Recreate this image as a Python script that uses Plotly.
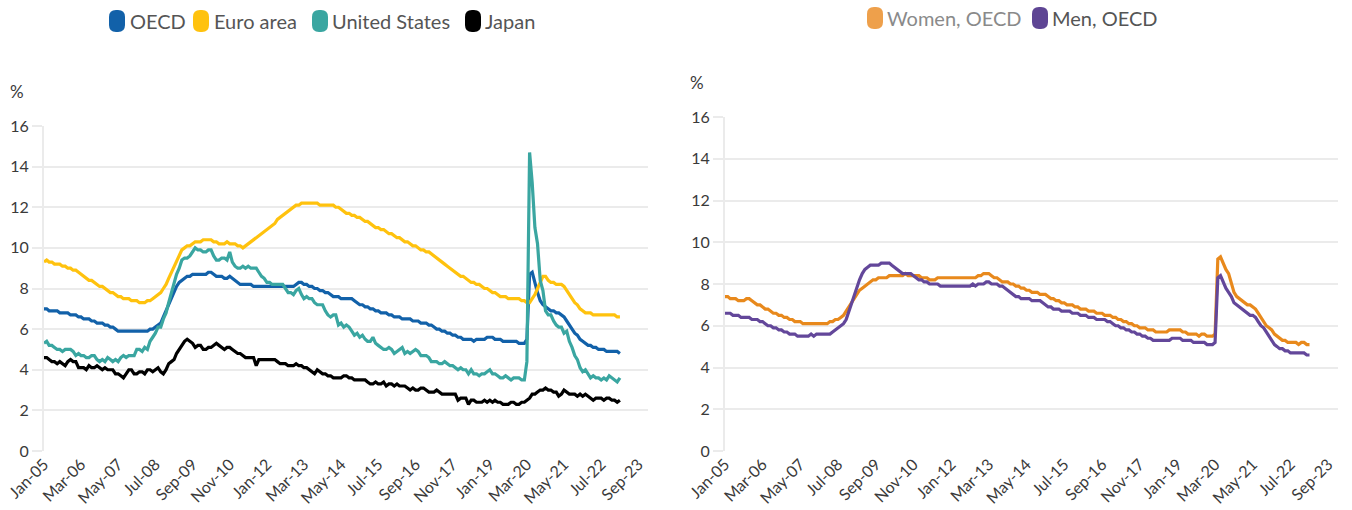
import pandas as pd
import plotly.graph_objects as go

# ---------------- data (monthly, Jan 2005 - Feb 2023, %) ----------------
start_month = "2005-01-01"

oecd = [
    7.0, 7.0, 6.9, 6.9, 6.9, 6.9, 6.8, 6.8, 6.8, 6.8, 6.7, 6.7,
    6.7, 6.6, 6.6, 6.5, 6.5, 6.5, 6.4, 6.4, 6.3, 6.3, 6.3, 6.2,
    6.2, 6.1, 6.1, 6.0, 5.9, 5.9, 5.9, 5.9, 5.9, 5.9, 5.9, 5.9,
    5.9, 5.9, 5.9, 5.9, 6.0, 6.0, 6.1, 6.2, 6.3, 6.6, 6.9, 7.2,
    7.5, 7.8, 8.1, 8.3, 8.4, 8.5, 8.6, 8.6, 8.7, 8.7, 8.7, 8.7,
    8.7, 8.7, 8.8, 8.8, 8.7, 8.6, 8.6, 8.6, 8.5, 8.5, 8.6, 8.5,
    8.4, 8.3, 8.2, 8.2, 8.2, 8.2, 8.2, 8.1, 8.1, 8.1, 8.1, 8.1,
    8.1, 8.1, 8.1, 8.1, 8.1, 8.1, 8.1, 8.1, 8.1, 8.1, 8.1, 8.2,
    8.3, 8.3, 8.2, 8.2, 8.1, 8.1, 8.0, 8.0, 7.9, 7.9, 7.8, 7.8,
    7.7, 7.6, 7.6, 7.6, 7.5, 7.5, 7.5, 7.5, 7.5, 7.4, 7.3, 7.2,
    7.2, 7.1, 7.1, 7.0, 7.0, 6.9, 6.9, 6.8, 6.8, 6.8, 6.7, 6.7,
    6.6, 6.6, 6.6, 6.5, 6.5, 6.5, 6.5, 6.4, 6.4, 6.4, 6.3, 6.3,
    6.3, 6.2, 6.2, 6.1, 6.0, 6.0, 5.9, 5.9, 5.8, 5.8, 5.7, 5.7,
    5.6, 5.6, 5.5, 5.5, 5.5, 5.5, 5.4, 5.5, 5.5, 5.5, 5.5, 5.6,
    5.6, 5.6, 5.5, 5.5, 5.5, 5.4, 5.4, 5.4, 5.4, 5.4, 5.4, 5.3,
    5.3, 5.3, 5.5, 8.7, 8.8, 8.2, 7.8, 7.4, 7.2, 7.1, 7.0, 6.9,
    6.9, 6.8, 6.8, 6.7, 6.6, 6.4, 6.2, 6.0, 5.8, 5.7, 5.5, 5.4,
    5.3, 5.2, 5.2, 5.1, 5.1, 5.0, 5.0, 5.0, 4.9, 4.9, 4.9, 4.9,
    4.9, 4.8,
]

euro_area = [
    9.3, 9.4, 9.3, 9.3, 9.2, 9.2, 9.2, 9.1, 9.1, 9.0, 9.0, 8.9,
    8.9, 8.8, 8.7, 8.6, 8.5, 8.4, 8.4, 8.3, 8.2, 8.1, 8.1, 8.0,
    7.9, 7.8, 7.8, 7.7, 7.6, 7.6, 7.5, 7.5, 7.5, 7.4, 7.4, 7.4,
    7.3, 7.3, 7.3, 7.4, 7.4, 7.5, 7.6, 7.7, 7.8, 8.0, 8.2, 8.5,
    8.8, 9.1, 9.4, 9.7, 9.9, 10.0, 10.1, 10.1, 10.2, 10.3, 10.3, 10.3,
    10.4, 10.4, 10.4, 10.4, 10.3, 10.3, 10.2, 10.2, 10.2, 10.3, 10.2, 10.2,
    10.2, 10.1, 10.1, 10.0, 10.1, 10.2, 10.3, 10.4, 10.5, 10.6, 10.7, 10.8,
    10.9, 11.0, 11.1, 11.2, 11.4, 11.5, 11.6, 11.7, 11.8, 11.9, 12.0, 12.1,
    12.1, 12.2, 12.2, 12.2, 12.2, 12.2, 12.2, 12.2, 12.1, 12.1, 12.1, 12.1,
    12.1, 12.1, 12.0, 12.0, 11.9, 11.8, 11.7, 11.7, 11.6, 11.6, 11.5, 11.5,
    11.4, 11.3, 11.3, 11.2, 11.1, 11.0, 11.0, 10.9, 10.9, 10.8, 10.7, 10.7,
    10.6, 10.5, 10.5, 10.4, 10.3, 10.3, 10.2, 10.1, 10.1, 10.0, 9.9, 9.9,
    9.8, 9.8, 9.7, 9.6, 9.5, 9.4, 9.3, 9.2, 9.1, 9.0, 8.9, 8.8,
    8.7, 8.6, 8.6, 8.5, 8.4, 8.3, 8.3, 8.2, 8.2, 8.1, 8.0, 8.0,
    7.9, 7.8, 7.8, 7.7, 7.6, 7.6, 7.6, 7.5, 7.5, 7.5, 7.5, 7.5,
    7.4, 7.4, 7.3, 7.3, 7.5, 7.7, 8.0, 8.3, 8.6, 8.6, 8.4, 8.3,
    8.3, 8.2, 8.2, 8.2, 8.1, 7.9, 7.7, 7.5, 7.3, 7.2, 7.0, 6.9,
    6.8, 6.8, 6.8, 6.7, 6.7, 6.7, 6.7, 6.7, 6.7, 6.7, 6.7, 6.7,
    6.6, 6.6,
]

united_states = [
    5.3, 5.4, 5.2, 5.2, 5.1, 5.0, 5.0, 4.9, 5.0, 5.0, 5.0, 4.9,
    4.7, 4.8, 4.7, 4.7, 4.6, 4.6, 4.7, 4.7, 4.5, 4.4, 4.5, 4.4,
    4.6, 4.5, 4.4, 4.5, 4.4, 4.6, 4.7, 4.6, 4.7, 4.7, 4.7, 5.0,
    5.0, 4.9, 5.1, 5.0, 5.4, 5.6, 5.8, 6.1, 6.1, 6.5, 6.8, 7.3,
    7.8, 8.3, 8.7, 9.0, 9.4, 9.5, 9.5, 9.6, 9.8, 10.0, 9.9, 9.9,
    9.8, 9.8, 9.9, 9.9, 9.6, 9.4, 9.4, 9.5, 9.5, 9.4, 9.8, 9.3,
    9.1, 9.0, 9.0, 9.1, 9.0, 9.1, 9.0, 9.0, 9.0, 8.8, 8.6, 8.5,
    8.3, 8.3, 8.2, 8.2, 8.2, 8.2, 8.2, 8.0, 7.8, 7.8, 7.7, 7.9,
    8.0, 7.7, 7.5, 7.6, 7.5, 7.5, 7.3, 7.2, 7.2, 7.2, 6.9, 6.7,
    6.6, 6.7, 6.7, 6.2, 6.3, 6.1, 6.2, 6.1, 5.9, 5.7, 5.8, 5.6,
    5.7, 5.5, 5.4, 5.4, 5.6, 5.3, 5.2, 5.1, 5.0, 5.0, 5.1, 5.0,
    4.8, 4.9, 5.0, 5.1, 4.8, 4.9, 4.8, 4.9, 5.0, 4.9, 4.7, 4.7,
    4.7, 4.6, 4.4, 4.4, 4.4, 4.3, 4.3, 4.4, 4.3, 4.2, 4.2, 4.1,
    4.0, 4.1, 4.0, 4.0, 3.8, 4.0, 3.8, 3.8, 3.7, 3.8, 3.8, 3.9,
    4.0, 3.8, 3.8, 3.7, 3.6, 3.6, 3.7, 3.6, 3.5, 3.6, 3.6, 3.6,
    3.5, 3.5, 4.4, 14.7, 13.2, 11.0, 10.2, 8.4, 7.9, 6.9, 6.7, 6.7,
    6.4, 6.2, 6.1, 6.1, 5.8, 5.9, 5.4, 5.1, 4.7, 4.5, 4.1, 3.9,
    4.0, 3.8, 3.6, 3.7, 3.6, 3.6, 3.5, 3.6, 3.5, 3.7, 3.6, 3.5,
    3.4, 3.6,
]

japan = [
    4.6, 4.6, 4.5, 4.4, 4.4, 4.3, 4.4, 4.3, 4.2, 4.4, 4.5, 4.4,
    4.4, 4.1, 4.1, 4.1, 4.0, 4.2, 4.1, 4.1, 4.2, 4.1, 4.0, 4.1,
    4.0, 4.0, 4.0, 3.8, 3.8, 3.7, 3.6, 3.8, 4.0, 4.0, 3.8, 3.8,
    3.9, 3.9, 3.8, 4.0, 4.0, 3.9, 4.0, 4.1, 3.9, 3.8, 4.0, 4.3,
    4.4, 4.5, 4.8, 5.0, 5.2, 5.4, 5.5, 5.4, 5.3, 5.1, 5.2, 5.2,
    5.0, 5.0, 5.1, 5.1, 5.2, 5.3, 5.2, 5.1, 5.0, 5.1, 5.1, 5.0,
    4.9, 4.8, 4.8, 4.7, 4.6, 4.6, 4.6, 4.6, 4.2, 4.5, 4.5, 4.5,
    4.5, 4.5, 4.5, 4.5, 4.4, 4.3, 4.3, 4.3, 4.2, 4.2, 4.2, 4.3,
    4.2, 4.2, 4.1, 4.1, 4.0, 3.9, 3.8, 4.0, 3.9, 3.8, 3.8, 3.7,
    3.7, 3.6, 3.6, 3.6, 3.6, 3.7, 3.7, 3.6, 3.6, 3.5, 3.5, 3.5,
    3.5, 3.5, 3.4, 3.3, 3.3, 3.4, 3.3, 3.3, 3.4, 3.2, 3.3, 3.3,
    3.2, 3.3, 3.2, 3.2, 3.2, 3.1, 3.0, 3.1, 3.0, 3.0, 3.1, 3.1,
    3.0, 2.9, 2.9, 2.9, 3.0, 2.9, 2.8, 2.8, 2.8, 2.8, 2.8, 2.8,
    2.5, 2.6, 2.6, 2.6, 2.3, 2.5, 2.5, 2.4, 2.4, 2.4, 2.5, 2.4,
    2.5, 2.4, 2.5, 2.4, 2.4, 2.3, 2.3, 2.3, 2.4, 2.4, 2.3, 2.3,
    2.4, 2.4, 2.5, 2.6, 2.8, 2.8, 2.9, 3.0, 3.0, 3.1, 3.0, 3.0,
    2.9, 2.9, 2.7, 2.8, 3.0, 2.9, 2.8, 2.8, 2.8, 2.7, 2.8, 2.7,
    2.8, 2.7, 2.6, 2.5, 2.6, 2.6, 2.6, 2.5, 2.6, 2.6, 2.5, 2.5,
    2.4, 2.5,
]

women_oecd = [
    7.4, 7.4, 7.3, 7.3, 7.3, 7.2, 7.2, 7.2, 7.3, 7.3, 7.2, 7.1,
    7.0, 7.0, 6.9, 6.8, 6.8, 6.7, 6.6, 6.6, 6.5, 6.5, 6.4, 6.4,
    6.3, 6.3, 6.2, 6.2, 6.2, 6.1, 6.1, 6.1, 6.1, 6.1, 6.1, 6.1,
    6.1, 6.1, 6.1, 6.2, 6.2, 6.3, 6.3, 6.4, 6.5, 6.7, 6.9, 7.1,
    7.3, 7.5, 7.7, 7.8, 7.9, 8.0, 8.1, 8.2, 8.2, 8.3, 8.3, 8.3,
    8.3, 8.4, 8.4, 8.4, 8.4, 8.4, 8.4, 8.5, 8.4, 8.4, 8.4, 8.4,
    8.4, 8.3, 8.3, 8.3, 8.2, 8.2, 8.2, 8.3, 8.3, 8.3, 8.3, 8.3,
    8.3, 8.3, 8.3, 8.3, 8.3, 8.3, 8.3, 8.3, 8.3, 8.3, 8.4, 8.4,
    8.5, 8.5, 8.5, 8.4, 8.3, 8.3, 8.2, 8.1, 8.1, 8.1, 8.0, 8.0,
    7.9, 7.9, 7.8, 7.8, 7.7, 7.7, 7.6, 7.6, 7.6, 7.5, 7.5, 7.5,
    7.4, 7.3, 7.3, 7.2, 7.2, 7.1, 7.1, 7.0, 7.0, 7.0, 6.9, 6.9,
    6.8, 6.8, 6.8, 6.7, 6.7, 6.7, 6.6, 6.6, 6.6, 6.5, 6.5, 6.5,
    6.4, 6.4, 6.3, 6.3, 6.2, 6.2, 6.1, 6.1, 6.0, 6.0, 5.9, 5.9,
    5.9, 5.8, 5.8, 5.8, 5.7, 5.7, 5.7, 5.7, 5.7, 5.8, 5.8, 5.8,
    5.8, 5.8, 5.7, 5.7, 5.6, 5.6, 5.6, 5.6, 5.5, 5.6, 5.6, 5.5,
    5.5, 5.5, 5.6, 9.2, 9.3, 9.0, 8.7, 8.5, 8.0, 7.6, 7.4, 7.3,
    7.2, 7.1, 7.0, 7.0, 6.9, 6.8, 6.6, 6.4, 6.2, 6.0, 5.9, 5.8,
    5.6, 5.5, 5.4, 5.3, 5.3, 5.2, 5.2, 5.2, 5.2, 5.1, 5.2, 5.2,
    5.1, 5.1,
]

men_oecd = [
    6.6, 6.6, 6.6, 6.5, 6.5, 6.5, 6.4, 6.4, 6.4, 6.4, 6.3, 6.3,
    6.3, 6.2, 6.2, 6.1, 6.0, 6.0, 5.9, 5.9, 5.8, 5.8, 5.7, 5.7,
    5.6, 5.6, 5.6, 5.5, 5.5, 5.5, 5.5, 5.5, 5.6, 5.5, 5.6, 5.6,
    5.6, 5.6, 5.6, 5.6, 5.7, 5.8, 5.9, 6.0, 6.1, 6.3, 6.7, 7.1,
    7.4, 7.8, 8.2, 8.5, 8.7, 8.8, 8.9, 8.9, 8.9, 8.9, 9.0, 9.0,
    9.0, 9.0, 8.9, 8.8, 8.7, 8.6, 8.5, 8.5, 8.5, 8.5, 8.4, 8.3,
    8.2, 8.2, 8.1, 8.1, 8.0, 8.0, 8.0, 8.0, 7.9, 7.9, 7.9, 7.9,
    7.9, 7.9, 7.9, 7.9, 7.9, 7.9, 7.9, 7.9, 8.0, 7.9, 8.0, 8.0,
    8.0, 8.1, 8.1, 8.0, 8.0, 8.0, 7.9, 7.9, 7.8, 7.7, 7.6, 7.5,
    7.4, 7.4, 7.3, 7.3, 7.3, 7.3, 7.2, 7.2, 7.2, 7.2, 7.1, 7.0,
    6.9, 6.9, 6.8, 6.8, 6.8, 6.7, 6.7, 6.7, 6.7, 6.6, 6.6, 6.6,
    6.5, 6.5, 6.5, 6.4, 6.4, 6.4, 6.3, 6.3, 6.3, 6.3, 6.2, 6.2,
    6.1, 6.0, 6.0, 5.9, 5.9, 5.8, 5.8, 5.7, 5.7, 5.6, 5.6, 5.5,
    5.5, 5.4, 5.4, 5.3, 5.3, 5.3, 5.3, 5.3, 5.3, 5.3, 5.4, 5.4,
    5.4, 5.4, 5.3, 5.3, 5.3, 5.3, 5.2, 5.2, 5.2, 5.2, 5.2, 5.1,
    5.1, 5.1, 5.2, 8.3, 8.4, 8.1, 7.8, 7.6, 7.4, 7.1, 7.0, 6.9,
    6.8, 6.7, 6.6, 6.5, 6.5, 6.4, 6.2, 6.0, 5.9, 5.7, 5.5, 5.3,
    5.1, 5.0, 4.9, 4.9, 4.8, 4.8, 4.7, 4.7, 4.7, 4.7, 4.7, 4.7,
    4.6, 4.6,
]

tick_labels = ["Jan-05", "Mar-06", "May-07", "Jul-08", "Sep-09", "Nov-10",
               "Jan-12", "Mar-13", "May-14", "Jul-15", "Sep-16", "Nov-17",
               "Jan-19", "Mar-20", "May-21", "Jul-22", "Sep-23"]
y_ticks = [0, 2, 4, 6, 8, 10, 12, 14, 16]

left_names = ["OECD", "Euro area", "United States", "Japan"]
left_colors = ["#1261a9", "#ffc20e", "#3aa6a1", "#000000"]
right_names = ["Women, OECD", "Men, OECD"]
right_colors = ["#e8891c", "#63479a"]
right_legend_colors = ["#eea04b", "#5e4594"]

# ---------------- figure ----------------
W, H = 1352, 510
dates = pd.date_range(start_month, periods=len(oecd), freq="MS")
tick_dates = pd.to_datetime(tick_labels, format="%b-%y")
x_range = ["2005-01-01", "2023-12-20"]

FONT = "Lato"
GRID = "#ebebeb"

fig = go.Figure()
left_series = [oecd, euro_area, united_states, japan]
for name, vals, col in zip(left_names, left_series, left_colors):
    fig.add_trace(go.Scatter(x=dates, y=vals, name=name, mode="lines",
                             line=dict(color=col, width=3.2), xaxis="x", yaxis="y",
                             showlegend=False))
right_series = [women_oecd, men_oecd]
for name, vals, col in zip(right_names, right_series, right_colors):
    fig.add_trace(go.Scatter(x=dates, y=vals, name=name, mode="lines",
                             line=dict(color=col, width=3.2), xaxis="x2", yaxis="y2",
                             showlegend=False))


def px_x(p):
    return p / W


def px_y(p):
    return 1 - p / H


xaxis_common = dict(
    type="date", range=x_range, tickmode="array", tickvals=tick_dates,
    ticktext=tick_labels, tickangle=-45, showgrid=False, zeroline=False,
    showline=False, ticks="", automargin=False,
    tickfont=dict(family=FONT, size=16, color="#3a3a3a"),
    fixedrange=True,
)
yaxis_common = dict(
    range=[0, 16], tickmode="array", tickvals=y_ticks, showgrid=True,
    gridcolor=GRID, gridwidth=2, zeroline=False, showline=True, linecolor=GRID,
    linewidth=2, ticks="outside", ticklen=10, tickcolor=GRID, tickwidth=2,
    automargin=False,
    tickfont=dict(family=FONT, size=16, color="#3a3a3a"), fixedrange=True,
)

fig.update_layout(
    width=W, height=H, autosize=False,
    margin=dict(l=0, r=0, t=0, b=0, pad=0),
    paper_bgcolor="white", plot_bgcolor="white",
    showlegend=False,
    font=dict(family=FONT, size=16, color="#3a3a3a"),
    xaxis=dict(domain=[px_x(44), px_x(648)], anchor="y", **xaxis_common),
    yaxis=dict(domain=[px_y(451), px_y(126)], anchor="x", **yaxis_common),
    xaxis2=dict(domain=[px_x(725), px_x(1338)], anchor="y2", **xaxis_common),
    yaxis2=dict(domain=[px_y(451), px_y(117)], anchor="x2", **yaxis_common),
)

# "%" unit labels
for xp, yp in [(17, 91), (697, 83)]:
    fig.add_annotation(text="%", xref="paper", yref="paper", x=px_x(xp), y=px_y(yp),
                       showarrow=False, xanchor="center", yanchor="middle",
                       font=dict(family=FONT, size=17, color="#3a3a3a"))

# custom legends: rounded pills + text
pill = ("M -8,-4 L -8,4 Q -8,11 -1,11 L 1,11 Q 8,11 8,4 L 8,-4 "
        "Q 8,-11 1,-11 L -1,-11 Q -8,-11 -8,-4 Z")


def legend_item(cx, cy, tx, label, color, text_color):
    fig.add_shape(type="path", path=pill, xref="paper", yref="paper",
                  xsizemode="pixel", ysizemode="pixel",
                  xanchor=px_x(cx), yanchor=px_y(cy),
                  fillcolor=color, line=dict(width=0))
    fig.add_annotation(text=label, xref="paper", yref="paper", x=px_x(tx), y=px_y(cy),
                       showarrow=False, xanchor="left", yanchor="middle",
                       font=dict(family=FONT, size=20, color=text_color))


left_pill_x = [117, 201, 320, 473]
left_text_x = [128, 212, 330, 483]
for cx, tx, name, col in zip(left_pill_x, left_text_x, left_names, left_colors):
    legend_item(cx, 21, tx, name, col, "#555555")

right_pill_x = [875, 1040]
right_text_x = [885, 1050]
right_text_cols = ["#8a8a8a", "#555555"]
for cx, tx, name, col, tc in zip(right_pill_x, right_text_x, right_names,
                                 right_legend_colors, right_text_cols):
    legend_item(cx, 18, tx, name, col, tc)

fig.write_html(
    "out.html",
    config={"displayModeBar": False},
    post_script=("document.body.style.margin='0';"
                 "document.body.style.padding='0';"
                 "document.body.style.overflow='hidden';"),
)
